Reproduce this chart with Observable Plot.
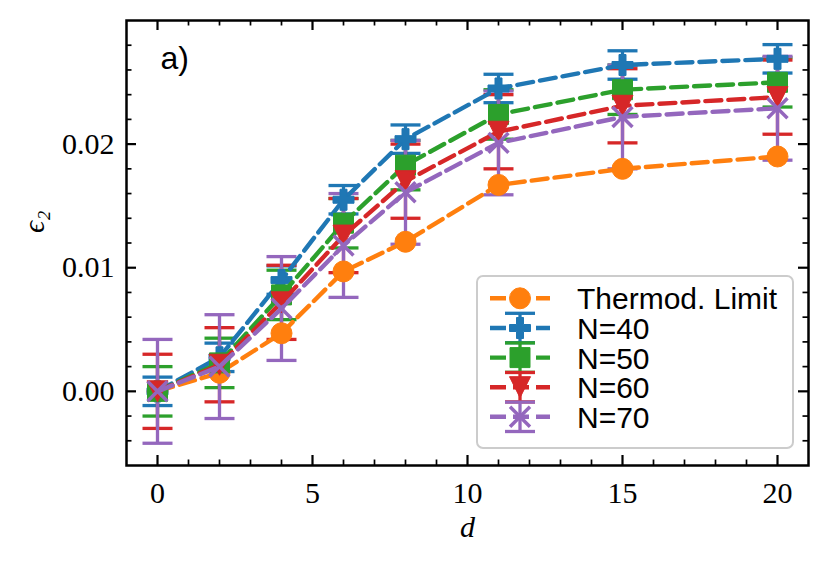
<!DOCTYPE html>
<html><head><meta charset="utf-8">
<script src="https://cdn.jsdelivr.net/npm/d3@7"></script>
<script src="https://cdn.jsdelivr.net/npm/@observablehq/plot@0.6"></script>
<style>
html,body{margin:0;padding:0;background:#fff;}
#chart{position:relative;width:829px;height:564px;}
#legend{position:absolute;left:0;top:0;pointer-events:none;}
</style></head><body><div id="chart"></div>
<script>
// ---- data ----
const dValues = [0, 2, 4, 6, 8, 11, 15, 20];
const seriesNames = ["Thermod. Limit", "N=40", "N=50", "N=60", "N=70"];
const seriesColors = ["#ff7f0e", "#1f77b4", "#2ca02c", "#d62728", "#9467bd"];
const thermoValues = [0, 0.0015, 0.0047, 0.0097, 0.0121, 0.0167, 0.0180, 0.0190];
const n40Values = [0, 0.00275, 0.0090, 0.0155, 0.0204, 0.0245, 0.0264, 0.0269];
const n50Values = [0, 0.0023, 0.0078, 0.0136, 0.0183, 0.0224, 0.0244, 0.0250];
const n60Values = [0, 0.00215, 0.0072, 0.0126, 0.0170, 0.0210, 0.0231, 0.0238];
const n70Values = [0, 0.0020, 0.0067, 0.0118, 0.0161, 0.0201, 0.0222, 0.0229];
const n40Errors = [0.00115, 0.00115, 0.00115, 0.00115, 0.00115, 0.00115, 0.00115, 0.00115];
const n50Errors = [0.0020, 0.0020, 0.0020, 0.0020, 0.0020, 0.0020, 0.0020, 0.0020];
const n60Errors = [0.0030, 0.0030, 0.0030, 0.0030, 0.0030, 0.0030, 0.0030, 0.0030];
const n70Errors = [0.0042, 0.0042, 0.0042, 0.0042, 0.0042, 0.0042, 0.0042, 0.0042];
const xMajorTicks = [0, 5, 10, 15, 20];
const xMinorTicks = [1, 2, 3, 4, 6, 7, 8, 9, 11, 12, 13, 14, 16, 17, 18, 19];
const yMajorTicks = [0, 0.01, 0.02];
const yMinorTicks = [-0.004, -0.002, 0.002, 0.004, 0.006, 0.008, 0.012, 0.014, 0.016, 0.018, 0.022, 0.024, 0.026, 0.028];
const panelLabel = "a)";
const xLabel = "d";
const yLabel = "ϵ₂";

// ---- symbols ----
const MS = 10.5;
const symCircle = {draw(c){ c.moveTo(MS,0); c.arc(0,0,MS,0,2*Math.PI); c.closePath(); }};
const symPlus = {draw(c){ const a=MS, b=MS/3;
  c.moveTo(-b,-a); c.lineTo(b,-a); c.lineTo(b,-b); c.lineTo(a,-b); c.lineTo(a,b); c.lineTo(b,b);
  c.lineTo(b,a); c.lineTo(-b,a); c.lineTo(-b,b); c.lineTo(-a,b); c.lineTo(-a,-b); c.lineTo(-b,-b); c.closePath(); }};
const symSquare = {draw(c){ const s=10; c.moveTo(-s,-s); c.lineTo(s,-s); c.lineTo(s,s); c.lineTo(-s,s); c.closePath(); }};
const symTriDown = {draw(c){ c.moveTo(-MS,-MS); c.lineTo(MS,-MS); c.lineTo(0,MS); c.closePath(); }};
const symX = {draw(c){ const s=MS*0.95; c.moveTo(-s,-s); c.lineTo(s,s); c.moveTo(-s,s); c.lineTo(s,-s); }};
const symCap = {draw(c){ c.moveTo(-15,0); c.lineTo(15,0); }};

const seriesSpecs = [
  {name: seriesNames[0], color: seriesColors[0], values: thermoValues, errors: null, symbol: symCircle, filled: true},
  {name: seriesNames[1], color: seriesColors[1], values: n40Values, errors: n40Errors, symbol: symPlus, filled: true},
  {name: seriesNames[2], color: seriesColors[2], values: n50Values, errors: n50Errors, symbol: symSquare, filled: true},
  {name: seriesNames[3], color: seriesColors[3], values: n60Values, errors: n60Errors, symbol: symTriDown, filled: true},
  {name: seriesNames[4], color: seriesColors[4], values: n70Values, errors: n70Errors, symbol: symX, filled: false}
];
seriesSpecs.forEach(s => {
  s.rows = dValues.map((d, i) => ({d, v: s.values[i], err: s.errors ? s.errors[i] : 0}));
});

const W = 829, H = 564, mL = 126, mR = 21, mT = 20, mB = 99;
const plotH = H - mT - mB;
const plotW = W - mL - mR;
const serif = "'Liberation Serif', 'DejaVu Serif', serif";
const sans = "'Liberation Sans', Arial, sans-serif";
const LW = 4.4, DASH = "16,7", EBW = 3.3;

const marks = [];
// ticks (inside, all four sides)
marks.push(Plot.tickX(xMajorTicks, {x: d => d, insetTop: plotH - 10, stroke: "black", strokeWidth: 2.2}));
marks.push(Plot.tickX(xMajorTicks, {x: d => d, insetBottom: plotH - 10, stroke: "black", strokeWidth: 2.2}));
marks.push(Plot.tickX(xMinorTicks, {x: d => d, insetTop: plotH - 5.5, stroke: "black", strokeWidth: 1.7}));
marks.push(Plot.tickX(xMinorTicks, {x: d => d, insetBottom: plotH - 5.5, stroke: "black", strokeWidth: 1.7}));
marks.push(Plot.tickY(yMajorTicks, {y: d => d, insetRight: plotW - 10, stroke: "black", strokeWidth: 2.2}));
marks.push(Plot.tickY(yMajorTicks, {y: d => d, insetLeft: plotW - 10, stroke: "black", strokeWidth: 2.2}));
marks.push(Plot.tickY(yMinorTicks, {y: d => d, insetRight: plotW - 5.5, stroke: "black", strokeWidth: 1.7}));
marks.push(Plot.tickY(yMinorTicks, {y: d => d, insetLeft: plotW - 5.5, stroke: "black", strokeWidth: 1.7}));

// error bars (all drawn below data lines)
seriesSpecs.filter(s => s.errors).forEach(s => {
  marks.push(Plot.ruleX(s.rows, {x: "d", y1: r => r.v - r.err, y2: r => r.v + r.err, stroke: s.color, strokeWidth: EBW}));
  marks.push(Plot.dot(s.rows, {x: "d", y: r => r.v - r.err, symbol: symCap, stroke: s.color, fill: "none", strokeWidth: EBW}));
  marks.push(Plot.dot(s.rows, {x: "d", y: r => r.v + r.err, symbol: symCap, stroke: s.color, fill: "none", strokeWidth: EBW}));
});
// lines + markers
seriesSpecs.forEach(s => {
  marks.push(Plot.line(s.rows, {x: "d", y: "v", stroke: s.color, strokeWidth: LW, strokeDasharray: DASH}));
  if (s.filled) marks.push(Plot.dot(s.rows, {x: "d", y: "v", symbol: s.symbol, fill: s.color, stroke: s.color, strokeWidth: 1}));
  else marks.push(Plot.dot(s.rows, {x: "d", y: "v", symbol: s.symbol, fill: "none", stroke: s.color, strokeWidth: 3.5}));
});

// axes labels
marks.push(Plot.axisX({ticks: xMajorTicks, tickSize: 0, tickPadding: 16, tickFormat: d => String(d), fontSize: 30, fontFamily: serif, label: null}));
marks.push(Plot.axisY({ticks: yMajorTicks, tickSize: 0, tickPadding: 12, tickFormat: d3.format(".2f"), fontSize: 30, fontFamily: serif, label: null}));
marks.push(Plot.text([xLabel], {text: d => d, frameAnchor: "bottom", lineAnchor: "middle", dy: 62, fontStyle: "italic", fontSize: 30, fontFamily: serif}));
marks.push(Plot.text([yLabel], {text: d => d, frameAnchor: "left", lineAnchor: "middle", dx: -92, dy: -10, rotate: -90, fontStyle: "italic", fontSize: 30, fontFamily: serif}));
marks.push(Plot.text([panelLabel], {text: d => d, frameAnchor: "top-left", lineAnchor: "middle", dx: 34, dy: 38, textAnchor: "start", fontSize: 32, fontFamily: sans}));
marks.push(Plot.frame({stroke: "black", strokeWidth: 2.5}));

const chart = Plot.plot({
  width: W, height: H,
  marginLeft: mL, marginRight: mR, marginTop: mT, marginBottom: mB,
  x: {domain: [-1, 21]},
  y: {domain: [-0.006, 0.030]},
  style: {background: "white", fontFamily: serif, fontSize: "30px", overflow: "visible"},
  marks
});
const holder = document.getElementById("chart");
holder.appendChild(chart);

// ---- legend overlay ----
const lg = d3.select(holder).append("svg").attr("id", "legend").attr("width", W).attr("height", H);
lg.append("rect").attr("x", 477).attr("y", 276).attr("width", 316).attr("height", 172).attr("rx", 6)
  .attr("fill", "white").attr("fill-opacity", 0.8).attr("stroke", "#cccccc").attr("stroke-width", 2);
const rowY = [298.3, 328, 357.6, 387.2, 416.8];
const hx0 = 490, hx1 = 550, hxm = 520, tx = 577;
seriesSpecs.forEach((s, i) => {
  const y = rowY[i];
  const g = lg.append("g");
  if (s.errors) {
    g.append("line").attr("x1", hxm).attr("x2", hxm).attr("y1", y - 14.7).attr("y2", y + 14.7).attr("stroke", s.color).attr("stroke-width", EBW);
    [y - 14.7, y + 14.7].forEach(cy => g.append("line").attr("x1", hxm - 15).attr("x2", hxm + 15).attr("y1", cy).attr("y2", cy).attr("stroke", s.color).attr("stroke-width", EBW));
  }
  g.append("line").attr("x1", hx0).attr("x2", hx1).attr("y1", y).attr("y2", y).attr("stroke", s.color).attr("stroke-width", LW).attr("stroke-dasharray", DASH);
  const p = d3.path(); s.symbol.draw(p);
  const m = g.append("path").attr("d", p.toString()).attr("transform", `translate(${hxm},${y})`);
  if (s.filled) m.attr("fill", s.color).attr("stroke", s.color).attr("stroke-width", 1);
  else m.attr("fill", "none").attr("stroke", s.color).attr("stroke-width", 3.5);
  g.append("text").attr("x", tx).attr("y", y + 11).attr("font-family", sans).attr("font-size", 30).attr("fill", "black").text(s.name);
});
</script></body></html>
